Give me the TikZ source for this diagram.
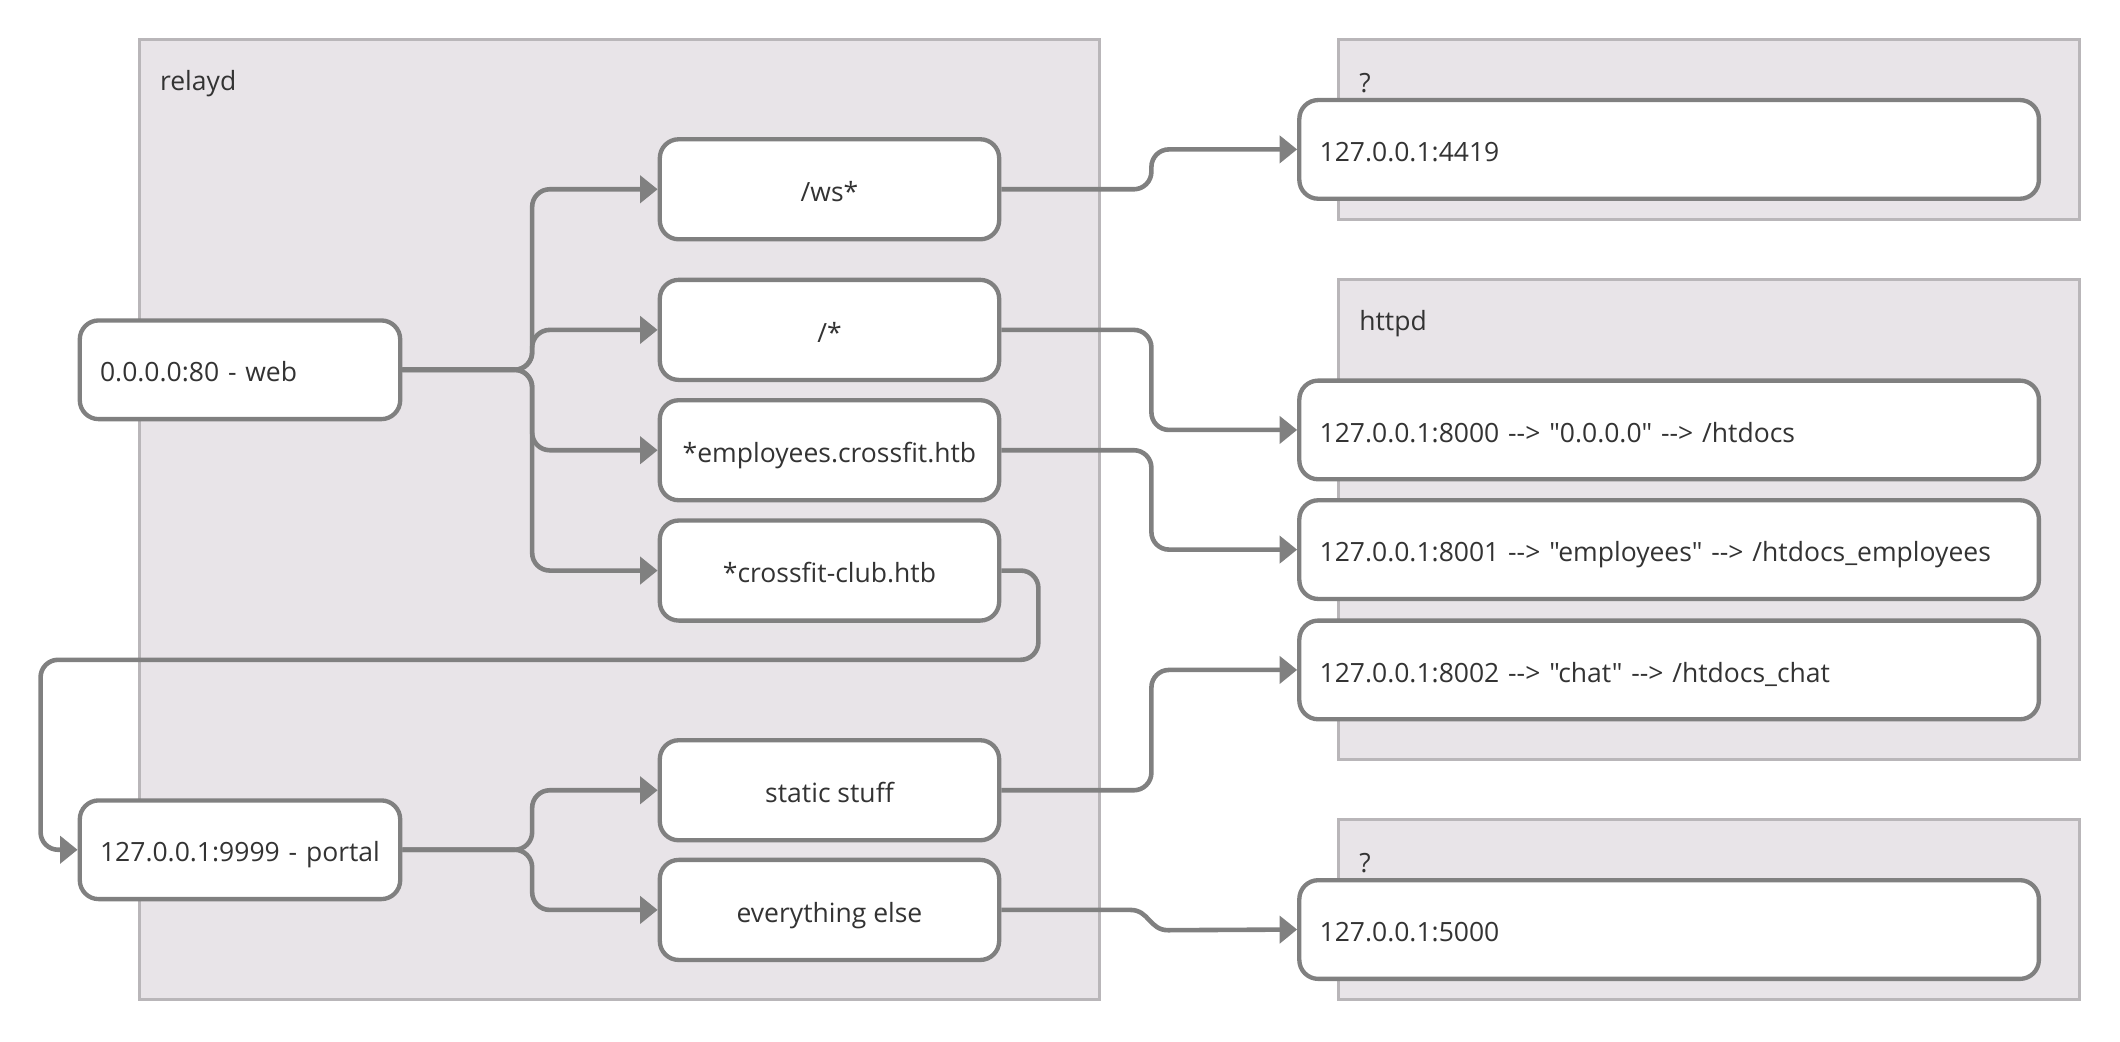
\documentclass[tikz,border=0pt]{standalone}
\usepackage{fontspec}
\setmainfont{Open Sans}[Ligatures=TeXOff]
\usetikzlibrary{arrows.meta}
\definecolor{clfill}{RGB}{232,228,232}
\definecolor{cldraw}{RGB}{185,182,185}
\definecolor{edgec}{RGB}{128,128,128}
\definecolor{txt}{RGB}{51,51,51}
\tikzset{
  cluster/.style={fill=clfill,draw=cldraw,line width=1.1pt},
  cllabel/.style={anchor=west,inner sep=0pt,text=txt,font=\fontsize{9.8pt}{11pt}\selectfont},
  boxbase/.style={draw=edgec,fill=white,line width=1.6pt,rounded corners=7pt,text=txt,font=\fontsize{9.8pt}{11pt}\selectfont,text height=9.5pt,text depth=0.5pt},
  leftbox/.style={boxbase,minimum width=118.5pt,minimum height=36.5pt,inner xsep=7.5pt,text width=103.5pt,align=left},
  midbox/.style={boxbase,minimum width=125.5pt,minimum height=37pt,align=center},
  rightbox/.style={boxbase,minimum width=273.5pt,minimum height=36.5pt,inner xsep=7.5pt,text width=258.5pt,align=left},
  edge/.style={draw=edgec,line width=1.7pt,rounded corners=6.5pt,-{Triangle[length=6.5pt,width=10pt]}}
}
\begin{document}
\begin{tikzpicture}[x=0.5pt,y=-0.5pt]
\useasboundingbox (0,0) rectangle (1568,770);
% clusters
\draw[cluster] (103,29) rectangle (813,739);
\node[cllabel] (lrelayd) at (118,61.5) {relayd};
\draw[cluster] (990,29) rectangle (1538,162);
\node[cllabel] (lq1) at (1005,61.5) {?};
\draw[cluster] (990,207) rectangle (1538,562);
\node[cllabel] (lhttpd) at (1005,239.5) {httpd};
\draw[cluster] (990,606) rectangle (1538,739);
\node[cllabel] (lq2) at (1005,638.5) {?};
% nodes
\node[leftbox] (web) at (177.5,273.5) {0.0.0.0:80 - web};
\node[leftbox] (portal) at (177.5,628.5) {127.0.0.1:9999 - portal};
\node[midbox] (ws) at (613.5,140) {/ws*};
\node[midbox] (star) at (613.5,244) {/*};
\node[midbox] (emp) at (613.5,333) {*employees.crossfit.htb};
\node[midbox] (club) at (613.5,422) {*crossfit-club.htb};
\node[midbox] (static) at (613.5,584.5) {static stuff};
\node[midbox] (else) at (613.5,673) {everything else};
\node[rightbox] (n4419) at (1234.5,110.5) {127.0.0.1:4419};
\node[rightbox] (n8000) at (1234.5,318) {127.0.0.1:8000 --> "0.0.0.0" --> /htdocs};
\node[rightbox] (n8001) at (1234.5,406.5) {127.0.0.1:8001 --> "employees" --> /htdocs\_employees};
\node[rightbox] (n8002) at (1234.5,495.5) {127.0.0.1:8002 --> "chat" --> /htdocs\_chat};
\node[rightbox] (n5000) at (1234.5,687.5) {127.0.0.1:5000};
% edges from web
\draw[edge] (web.east) -- ++(96,0) |- (ws.west);
\draw[edge] (web.east) -- ++(96,0) |- (star.west);
\draw[edge] (web.east) -- ++(96,0) |- (emp.west);
\draw[edge] (web.east) -- ++(96,0) |- (club.west);
% edges to right
\draw[edge] (ws.east) -- ++(111,0) |- (n4419.west);
\draw[edge] (star.east) -- ++(111,0) |- (n8000.west);
\draw[edge] (emp.east) -- ++(111,0) |- (n8001.west);
\draw[edge] (static.east) -- ++(111,0) |- (n8002.west);
\draw[edge,rounded corners=0pt] (else.east) -- (836,673) .. controls (850,673) and (850,688) .. (864,688) -- (n5000.west);
% club to portal
\coordinate (loopA) at (768,488);
\coordinate (loopB) at (30,488);
\draw[edge] (club.east) -| (loopA) -- (loopB) |- (portal.west);
% edges from portal
\draw[edge] (portal.east) -- ++(96,0) |- (static.west);
\draw[edge] (portal.east) -- ++(96,0) |- (else.west);
\end{tikzpicture}
\end{document}
